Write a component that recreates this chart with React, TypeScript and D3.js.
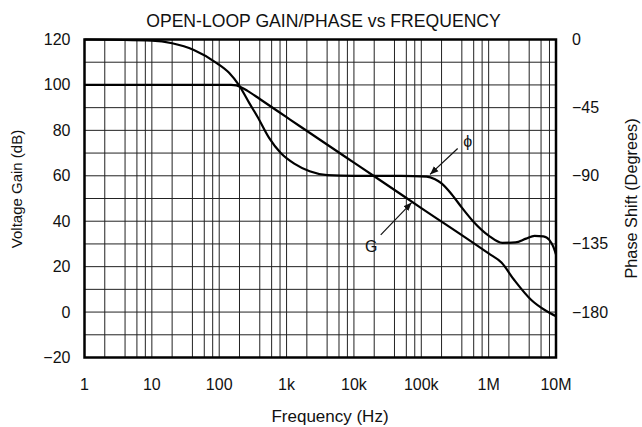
import * as d3 from 'd3';

// gain curve, dB vs Hz
const gainFreq = [1, 10, 50, 100, 150, 180, 210, 260, 400, 1000, 1600, 10000, 20000, 100000, 1000000, 1550000, 2400000, 4300000, 6800000, 10000000];
const gainDb = [100, 100, 100, 100, 100, 99.8, 99, 97.5, 93.8, 85.8, 81.7, 65.8, 59.8, 45.8, 25.8, 21.8, 14.1, 5.3, 0.9, -1.8];

// phase curve, degrees vs Hz
const phaseFreq = [1, 10, 20, 42, 93, 140, 195, 280, 370, 550, 820, 1300, 2200, 4000, 10000, 50000, 120000, 160000, 200000, 280000, 400000, 600000, 1000000, 1600000, 2500000, 3600000, 4800000, 6500000, 8000000, 9100000, 10000000];
const phaseDeg = [0, -0.8, -2.5, -6.9, -15.7, -22, -30, -42, -51, -65, -75, -82, -87, -89.5, -90, -90, -90.5, -92.3, -95, -102, -111, -120.5, -129.5, -134.3, -134, -131.5, -129.7, -130, -132.5, -136.8, -142];

const xTicks = [1, 10, 100, 1000, 10000, 100000, 1000000, 10000000];
const xTickLabels = ['1', '10', '100', '1k', '10k', '100k', '1M', '10M'];
const gainTicks = [120, 100, 80, 60, 40, 20, 0, -20];
const phaseTicks = [0, -45, -90, -135, -180];

const W = 642;
const H = 427;
const margin = { top: 39.5, right: 86, bottom: 69.5, left: 84.5 };
const font = '"Liberation Sans", Arial, Helvetica, sans-serif';
const minus = (v: number) => (v < 0 ? '\u2212' + Math.abs(v) : String(v));

export default function App() {
  const x = d3.scaleLog().domain([1, 1e7]).range([margin.left, W - margin.right]);
  const y = d3.scaleLinear().domain([-20, 120]).range([H - margin.bottom, margin.top]);
  // phase axis: 0 deg at 120 dB, -180 deg at 0 dB
  const yp = d3.scaleLinear().domain([-180, 0]).range([y(0), y(120)]);

  // log grid at 2,4,6,8 and each decade
  const vGrid: number[] = [];
  for (let d = 1; d < 1e7; d *= 10) {
    [2, 4, 6, 8, 10].forEach((m) => vGrid.push(d * m));
  }
  const hGrid = d3.range(-10, 120, 10);

  const gainLine = d3.line<number>()
    .x((_, i) => x(gainFreq[i]))
    .y((d) => y(d))
    .curve(d3.curveMonotoneX);
  const phaseLine = d3.line<number>()
    .x((_, i) => x(phaseFreq[i]))
    .y((d) => yp(d))
    .curve(d3.curveMonotoneX);

  const x0 = x(1);
  const x1 = x(1e7);
  const y0 = y(-20);
  const y1 = y(120);

  return (
    <svg width={W} height={H} style={{ position: 'absolute', left: 0, top: 0, background: '#fff' }} fontFamily={font}>
      <defs>
        <marker id="arr" viewBox="0 0 10 10" refX="10" refY="5" markerWidth="7" markerHeight="7" orient="auto-start-reverse">
          <path d="M0,1 L10,5 L0,9 Z" fill="#111" />
        </marker>
      </defs>
      <text x={323.5} y={26.5} textAnchor="middle" fontSize={17.6} fill="#111">OPEN-LOOP GAIN/PHASE vs FREQUENCY</text>

      {/* grid */}
      {hGrid.map((v) => (
        <line key={'h' + v} x1={x0} x2={x1} y1={y(v)} y2={y(v)} stroke="#222" strokeWidth={1} />
      ))}
      {vGrid.map((v) => (
        <line key={'v' + v} x1={x(v)} x2={x(v)} y1={y1} y2={y0} stroke="#222" strokeWidth={1} />
      ))}
      <rect x={x0} y={y1} width={x1 - x0} height={y0 - y1} fill="none" stroke="#000" strokeWidth={2.5} />

      {/* curves */}
      <path d={gainLine(gainDb) || ''} fill="none" stroke="#000" strokeWidth={2.2} />
      <path d={phaseLine(phaseDeg) || ''} fill="none" stroke="#000" strokeWidth={2.2} />

      {/* annotations */}
      <text x={x(490000)} y={y(75)} textAnchor="middle" dominantBaseline="central" fontSize={16} fill="#111">ϕ</text>
      <line x1={x(347000)} y1={y(72)} x2={x(135000)} y2={y(60.6)} stroke="#111" strokeWidth={1.2} markerEnd="url(#arr)" />
      <text x={x(18000)} y={y(29)} textAnchor="middle" dominantBaseline="central" fontSize={16} fill="#111">G</text>
      <line x1={x(25000)} y1={y(34)} x2={x(72000)} y2={y(48.2)} stroke="#111" strokeWidth={1.2} markerEnd="url(#arr)" />

      {/* left axis */}
      {gainTicks.map((v) => (
        <text key={'g' + v} x={x0 - 14} y={y(v)} textAnchor="end" dominantBaseline="central" fontSize={16} fill="#111">{minus(v)}</text>
      ))}
      {/* right axis */}
      {phaseTicks.map((v) => (
        <text key={'p' + v} x={x1 + 16} y={yp(v)} textAnchor="start" dominantBaseline="central" fontSize={16} fill="#111">{minus(v)}</text>
      ))}
      {/* bottom axis */}
      {xTicks.map((v, i) => (
        <text key={'x' + v} x={x(v)} y={y0 + 27} textAnchor="middle" dominantBaseline="central" fontSize={16} fill="#111">{xTickLabels[i]}</text>
      ))}

      <text transform="translate(16,189) rotate(-90)" textAnchor="middle" dominantBaseline="central" fontSize={15} fill="#111">Voltage Gain (dB)</text>
      <text transform="translate(631,198.5) rotate(-90)" textAnchor="middle" dominantBaseline="central" fontSize={16.3} fill="#111">Phase Shift (Degrees)</text>
      <text x={330} y={416} textAnchor="middle" dominantBaseline="central" fontSize={17} fill="#111">Frequency (Hz)</text>
    </svg>
  );
}
